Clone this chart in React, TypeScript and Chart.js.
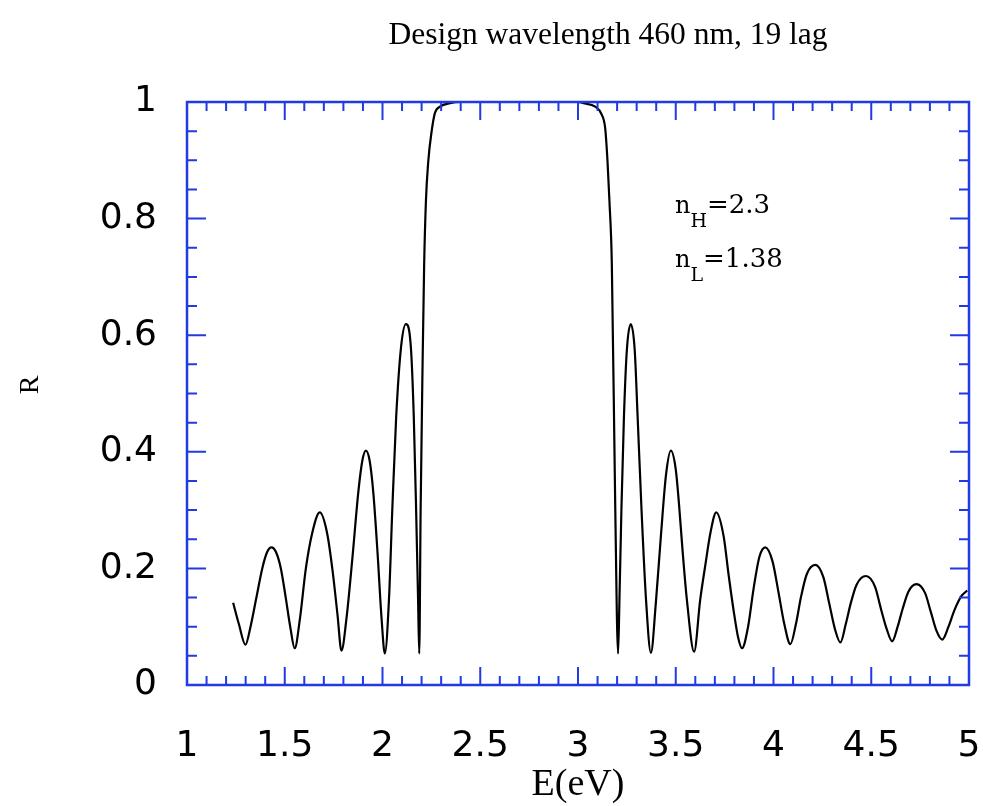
import React, { useEffect, useRef } from "react";
import { Chart, registerables } from "chart.js";

Chart.register(...registerables);

// Photon energy (eV) and reflectance
const energy = [
  1.236, 1.265, 1.299, 1.325, 1.355, 1.385, 1.41, 1.432, 1.455, 1.48, 1.505, 1.528, 1.551,
  1.577, 1.608, 1.64, 1.679, 1.717, 1.745, 1.77, 1.79,
  1.816, 1.848, 1.876, 1.897, 1.915, 1.934, 1.953, 1.975, 1.995, 2.012,
  2.033, 2.05, 2.07, 2.095, 2.12, 2.145, 2.16, 2.172, 2.182, 2.188,
  2.195, 2.205, 2.213, 2.222, 2.234, 2.251, 2.268, 2.294, 2.345, 2.4,
  3.0, 3.028, 3.088, 3.122, 3.139, 3.151, 3.161, 3.173, 3.19, 3.205,
  3.212, 3.222, 3.235, 3.25, 3.27, 3.29, 3.305, 3.325, 3.348, 3.373,
  3.398, 3.425, 3.45, 3.475, 3.5, 3.515, 3.535, 3.557, 3.594,
  3.625, 3.651, 3.678, 3.707, 3.745, 3.77, 3.795, 3.82, 3.839,
  3.87, 3.898, 3.928, 3.958, 3.995, 4.025, 4.055, 4.086,
  4.115, 4.14, 4.17, 4.214, 4.255, 4.285, 4.315, 4.342,
  4.37, 4.395, 4.425, 4.473, 4.52, 4.55, 4.58, 4.607,
  4.635, 4.66, 4.69, 4.731, 4.775, 4.805, 4.835, 4.863,
  4.895, 4.925, 4.96, 4.991,
];
const reflectance = [
  0.141, 0.105, 0.069, 0.1, 0.15, 0.2, 0.228, 0.236, 0.228, 0.2, 0.15, 0.1, 0.063,
  0.112, 0.2, 0.26, 0.296, 0.26, 0.195, 0.12, 0.059,
  0.115, 0.225, 0.33, 0.385, 0.402, 0.385, 0.33, 0.225, 0.115, 0.054,
  0.146, 0.3, 0.46, 0.58, 0.619, 0.58, 0.46, 0.3, 0.146, 0.054,
  0.3, 0.55, 0.72, 0.829, 0.898, 0.949, 0.981, 0.992, 0.998, 1.0,
  1.0, 0.998, 0.992, 0.978, 0.955, 0.898, 0.829, 0.723, 0.317, 0.054,
  0.146, 0.3, 0.46, 0.575, 0.619, 0.575, 0.46, 0.3, 0.146, 0.055,
  0.14, 0.26, 0.36, 0.402, 0.37, 0.317, 0.23, 0.146, 0.057,
  0.146, 0.205, 0.262, 0.296, 0.255, 0.19, 0.13, 0.08, 0.063,
  0.1, 0.165, 0.22, 0.236, 0.212, 0.16, 0.105, 0.07,
  0.105, 0.15, 0.19, 0.206, 0.185, 0.14, 0.095, 0.073,
  0.105, 0.14, 0.172, 0.187, 0.168, 0.13, 0.095, 0.075,
  0.1, 0.13, 0.16, 0.173, 0.158, 0.125, 0.092, 0.078,
  0.1, 0.128, 0.152, 0.162,
];

const xTickValues = [1, 1.5, 2, 2.5, 3, 3.5, 4, 4.5, 5];
const xTickLabels = ["1", "1.5", "2", "2.5", "3", "3.5", "4", "4.5", "5"];
const yTickValues = [0, 0.2, 0.4, 0.6, 0.8, 1];
const yTickLabels = ["0", "0.2", "0.4", "0.6", "0.8", "1"];

const titleText = "Design wavelength 460 nm, 19 lag";
const xTitle = "E(eV)";
const yTitle = "R";
const notes = [
  { base: "n", sub: "H", rest: "=2.3" },
  { base: "n", sub: "L", rest: "=1.38" },
];

const BLUE = "rgb(34,58,226)";
const SERIF = "'Liberation Serif', serif";
const NOTE_SERIF = "'DejaVu Serif', serif";
const SANS = "'DejaVu Sans', sans-serif";

function fitFont(ctx: CanvasRenderingContext2D, text: string, family: string, width: number) {
  let size = 10;
  for (let s = 10; s <= 60; s += 0.5) {
    ctx.font = `${s}px ${family}`;
    if (ctx.measureText(text).width <= width) size = s;
  }
  return `${size}px ${family}`;
}

const framePlugin = {
  id: "frame",
  afterDatasetsDraw(chart: any) {
    const { ctx, chartArea, scales } = chart;
    const { left, right, top, bottom } = chartArea;
    const x = scales.x;
    const y = scales.y;
    ctx.save();
    ctx.strokeStyle = BLUE;
    ctx.lineWidth = 2;
    ctx.beginPath();
    for (let i = 0; i <= 40; i++) {
      const v = 1 + i * 0.1;
      const px = x.getPixelForValue(v);
      const len = i % 5 === 0 ? 18 : 9;
      ctx.moveTo(px, bottom);
      ctx.lineTo(px, bottom - len);
      ctx.moveTo(px, top);
      ctx.lineTo(px, top + len);
    }
    for (let i = 0; i <= 20; i++) {
      const v = i * 0.05;
      const py = y.getPixelForValue(v);
      const len = i % 4 === 0 ? 19 : 10;
      ctx.moveTo(left, py);
      ctx.lineTo(left + len, py);
      ctx.moveTo(right, py);
      ctx.lineTo(right - len, py);
    }
    ctx.stroke();
    ctx.lineWidth = 2.5;
    ctx.strokeRect(left, top, right - left, bottom - top);
    ctx.restore();
  },
  afterDraw(chart: any) {
    const { ctx, chartArea } = chart;
    ctx.save();
    ctx.fillStyle = "#000";
    ctx.textBaseline = "alphabetic";
    // Title
    ctx.font = fitFont(ctx, titleText, SERIF, 442);
    ctx.textAlign = "center";
    ctx.fillText(titleText, 608, 44);
    // x title
    ctx.font = fitFont(ctx, xTitle, SERIF, 94);
    ctx.fillText(xTitle, (chartArea.left + chartArea.right) / 2, 795);
    // y title
    ctx.save();
    ctx.translate(38, 385);
    ctx.rotate(-Math.PI / 2);
    ctx.font = `28px ${SERIF}`;
    ctx.fillText(yTitle, 0, 0);
    ctx.restore();
    // annotations
    ctx.textAlign = "left";
    const baselines = [213, 267];
    notes.forEach((n, i) => {
      let xx = 675;
      const by = baselines[i];
      ctx.font = `24px ${NOTE_SERIF}`;
      ctx.fillText(n.base, xx, by);
      xx += ctx.measureText(n.base).width;
      ctx.font = `19px ${NOTE_SERIF}`;
      ctx.fillText(n.sub, xx, by + 14);
      xx += ctx.measureText(n.sub).width;
      ctx.font = `26px ${NOTE_SERIF}`;
      ctx.fillText(n.rest, xx, by);
    });
    ctx.restore();
  },
};

export default function App() {
  const ref = useRef<HTMLCanvasElement | null>(null);
  useEffect(() => {
    document.body.style.margin = "0";
    const canvas = ref.current;
    if (!canvas) return;
    const chart = new Chart(canvas, {
      type: "line",
      data: {
        datasets: [
          {
            data: energy.map((e, i) => ({ x: e, y: reflectance[i] })),
            borderColor: "#000",
            borderWidth: 2.2,
            pointRadius: 0,
            fill: false,
            cubicInterpolationMode: "monotone",
          },
        ],
      },
      options: {
        responsive: false,
        animation: false,
        devicePixelRatio: 1,
        layout: { padding: { top: 102, right: 14, left: 0, bottom: 0 } },
        plugins: { legend: { display: false }, tooltip: { enabled: false }, title: { display: false } },
        scales: {
          x: {
            type: "linear",
            min: 1,
            max: 5,
            afterBuildTicks: (s: any) => {
              s.ticks = xTickValues.map((v) => ({ value: v }));
            },
            afterFit: (s: any) => {
              s.height = 121;
              s.paddingLeft = 0;
              s.paddingRight = 0;
            },
            ticks: {
              autoSkip: false,
              maxRotation: 0,
              padding: 40,
              color: "#000",
              font: { family: SANS, size: 36 },
              callback: (v: any) => {
                const i = xTickValues.findIndex((t) => Math.abs(t - Number(v)) < 1e-9);
                return i >= 0 ? xTickLabels[i] : "";
              },
            },
            grid: { display: false, drawTicks: false },
            border: { display: false },
          },
          y: {
            type: "linear",
            min: 0,
            max: 1,
            afterBuildTicks: (s: any) => {
              s.ticks = yTickValues.map((v) => ({ value: v }));
            },
            afterFit: (s: any) => {
              s.width = 187;
              s.paddingTop = 0;
              s.paddingBottom = 0;
            },
            ticks: {
              autoSkip: false,
              padding: 30,
              color: "#000",
              font: { family: SANS, size: 36 },
              callback: (v: any) => {
                const i = yTickValues.findIndex((t) => Math.abs(t - Number(v)) < 1e-9);
                return i >= 0 ? yTickLabels[i] : "";
              },
            },
            grid: { display: false, drawTicks: false },
            border: { display: false },
          },
        },
      },
      plugins: [framePlugin],
    } as any);
    return () => chart.destroy();
  }, []);
  return (
    <div style={{ width: 983, height: 806, background: "#fff" }}>
      <canvas ref={ref} width={983} height={806} style={{ display: "block" }} />
    </div>
  );
}
